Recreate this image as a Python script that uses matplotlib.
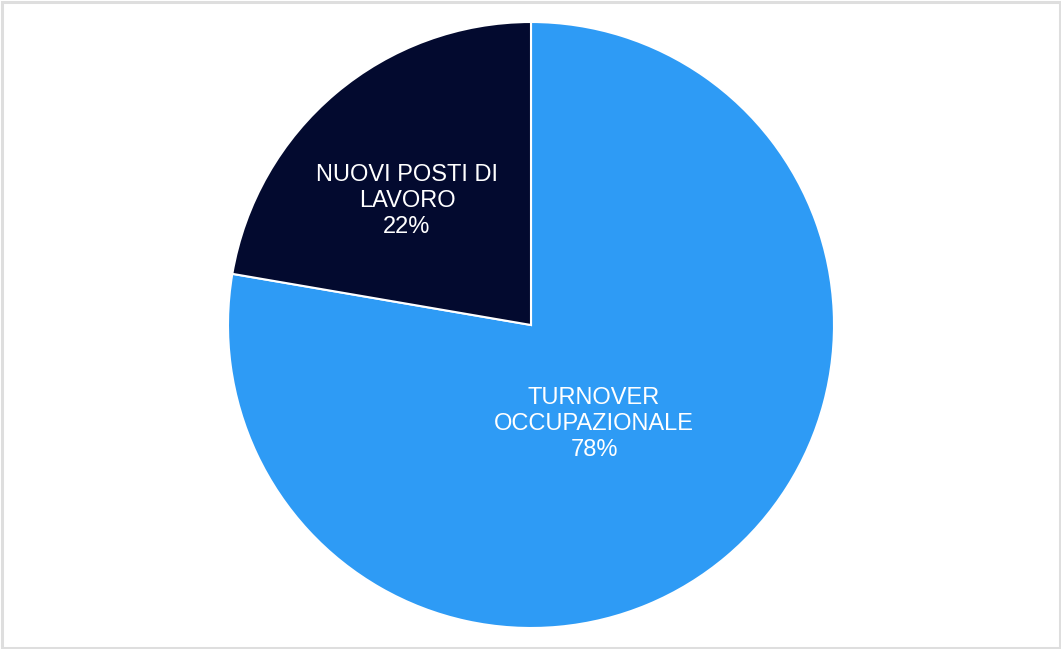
import matplotlib
matplotlib.use("Agg")
import matplotlib.pyplot as plt
from matplotlib.patches import Rectangle

categories = ["TURNOVER\nOCCUPAZIONALE", "NUOVI POSTI DI\nLAVORO"]
values = [77.7, 22.3]
colors = ["#2E9BF5", "#030A2F"]

W, H = 1061, 649
fig = plt.figure(figsize=(W / 100, H / 100), dpi=100)
ax = fig.add_axes([0, 0, 1, 1])
ax.set_xlim(0, W)
ax.set_ylim(0, H)
ax.set_aspect("equal")
ax.axis("off")

cx, cy, r = 531, H - 325, 303
wedges, _ = ax.pie(values, colors=colors, startangle=90, counterclock=False,
                   center=(cx, cy), radius=r,
                   wedgeprops=dict(edgecolor="white", linewidth=1.5))
ax.set_xlim(0, W)
ax.set_ylim(0, H)

label_pos = [(594, H - 424), (407, H - 201)]
for cat, v, (x, y) in zip(categories, values, label_pos):
    ax.text(x, y, f"{cat}\n{round(v)}%", ha="center", va="center", color="white",
            fontsize=17, family="Liberation Sans", linespacing=1.22)

fig.patches.append(Rectangle((1.5, 1.5), W - 3, H - 3, transform=None,
                             fill=False, edgecolor="#DEDEDE", linewidth=2.2))

fig.savefig("out.png", dpi=100, facecolor="white")
